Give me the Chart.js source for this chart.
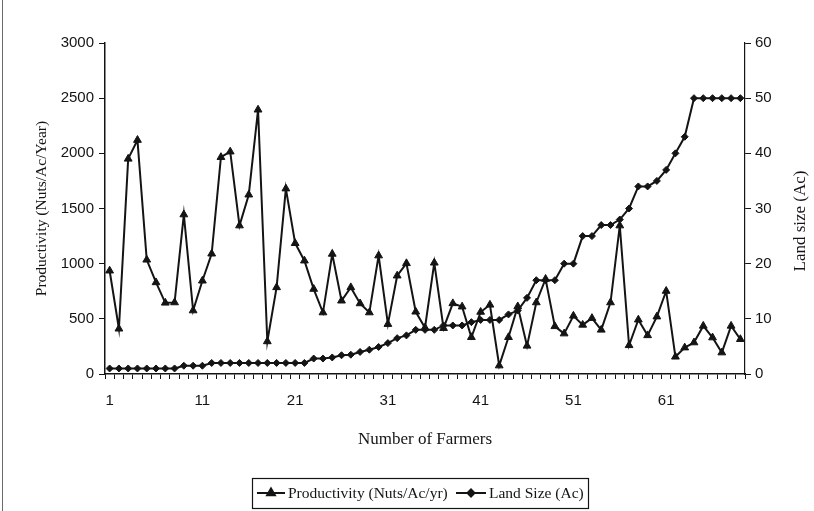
<!DOCTYPE html>
<html>
<head>
<meta charset="utf-8">
<script src="https://cdn.jsdelivr.net/npm/chart.js@4.4.1/dist/chart.umd.min.js"></script>
<style>
html,body{margin:0;padding:0;background:#fff;}
#wrap{width:814px;height:511px;}
</style>
</head>
<body>
<div id="wrap"><canvas id="chart" width="814" height="511"></canvas></div>
<script>
// ─── Data ───
const farmers = ['1','2','3','4','5','6','7','8','9','10','11','12','13','14','15','16','17','18','19','20',
  '21','22','23','24','25','26','27','28','29','30','31','32','33','34','35','36','37','38','39','40',
  '41','42','43','44','45','46','47','48','49','50','51','52','53','54','55','56','57','58','59','60',
  '61','62','63','64','65','66','67','68','69'];
const xTickLabels = ['1','11','21','31','41','51','61'];

const productivity = [936,410,1950,2120,1035,830,645,648,1445,575,
  845,1090,1965,2015,1345,1625,2395,295,785,1680,
  1185,1027,770,557,1088,664,785,639,557,1073,
  452,891,1003,564,420,1008,415,640,610,333,
  562,627,76,333,612,255,648,861,432,366,
  527,445,506,400,648,1345,260,492,350,520,
  752,156,239,285,436,330,194,436,315];

const landSize = [1,1,1,1,1,1,1,1,1.5,1.5,
  1.5,2,2,2,2,2,2,2,2,2,
  2,2,2.8,2.8,3,3.4,3.5,4,4.4,4.9,
  5.6,6.5,7,8,8,8,8.8,8.8,8.8,9.4,
  9.8,9.8,9.8,10.8,11.5,13.8,17,17,17,20,
  20,25,25,27,27,28,30,34,34,35,
  37,40,43,50,50,50,50,50,50];

const prodTicks = [0,500,1000,1500,2000,2500,3000];
const landTicks = [0,10,20,30,40,50,60];

const INK = '#141414';
const SANS = "'Liberation Sans', Arial, sans-serif";
const SERIF = "'Liberation Serif', 'Times New Roman', serif";

// ─── Extra drawing: right title, boxed legend, scan frame line ───
const extras = {
  id:'extras',
  afterDraw(chart){
    const ctx = chart.ctx;
    ctx.save();
    // left frame line of the scanned page
    ctx.strokeStyle = '#6a6a6a'; ctx.lineWidth = 1;
    ctx.beginPath(); ctx.moveTo(2.5,0); ctx.lineTo(2.5,511); ctx.stroke();

    // right axis title reads bottom-to-top
    ctx.fillStyle = INK;
    ctx.font = '17px ' + SERIF;
    ctx.textAlign = 'center'; ctx.textBaseline = 'middle';
    ctx.translate(801, 221); ctx.rotate(-Math.PI/2);
    ctx.fillText('Land size (Ac)', 0, 0);
    ctx.restore();

    // legend box
    ctx.save();
    ctx.strokeStyle = INK; ctx.lineWidth = 1.2;
    ctx.strokeRect(252.5, 478.5, 336, 30);
    const y = 493;
    const items = [
      {x0:257, x1:285, tx:288, style:'triangle', r:4.5, text:chart.data.datasets[0].label},
      {x0:456, x1:486, tx:489, style:'rectRot', r:3.5, text:chart.data.datasets[1].label}
    ];
    ctx.font = '15.5px ' + SERIF;
    ctx.textAlign = 'left'; ctx.textBaseline = 'middle';
    items.forEach(it=>{
      ctx.strokeStyle = INK; ctx.lineWidth = 2;
      ctx.beginPath(); ctx.moveTo(it.x0,y); ctx.lineTo(it.x1,y); ctx.stroke();
      ctx.fillStyle = INK;
      Chart.helpers.drawPoint(ctx,{pointStyle:it.style, radius:it.r, rotation:0, borderWidth:1}, (it.x0+it.x1)/2, y);
      ctx.fillText(it.text, it.tx, y+1);
    });
    ctx.restore();
  }
};

const ctx = document.getElementById('chart').getContext('2d');
new Chart(ctx,{
  type:'line',
  data:{
    labels:farmers,
    datasets:[
      {label:'Productivity (Nuts/Ac/yr)', data:productivity, yAxisID:'y',
        borderColor:INK, backgroundColor:INK, borderWidth:2,
        pointStyle:'triangle', pointRadius:4.5, pointBorderWidth:1, tension:0},
      {label:'Land Size (Ac)', data:landSize, yAxisID:'y1',
        borderColor:INK, backgroundColor:INK, borderWidth:2,
        pointStyle:'rectRot', pointRadius:3.5, pointBorderWidth:1, tension:0}
    ]
  },
  options:{
    responsive:false, animation:false,
    layout:{padding:{top:43, bottom:57, left:0, right:0}},
    plugins:{legend:{display:false}, tooltip:{enabled:false}},
    scales:{
      x:{
        offset:true,
        grid:{offset:true, drawOnChartArea:false, drawTicks:true, tickLength:5, color:INK, lineWidth:1},
        border:{display:true, color:INK, width:1.5},
        ticks:{autoSkip:false, maxRotation:0, minRotation:0, padding:13, color:INK,
          font:{family:SANS, size:15},
          callback:function(v,i){ const l = farmers[i]; return xTickLabels.includes(l) ? l : ''; }},
        title:{display:true, text:'Number of Farmers', color:INK,
          font:{family:SERIF, size:17}, padding:{top:0, bottom:4}},
        afterFit:s=>{ s.height = 80; }
      },
      y:{
        position:'left', min:0, max:3000,
        grid:{drawOnChartArea:false, drawTicks:true, tickLength:6, color:INK},
        border:{display:true, color:INK, width:1.5},
        afterBuildTicks:s=>{ s.ticks = prodTicks.map(v=>({value:v})); },
        ticks:{padding:5, color:INK, font:{family:SANS, size:15}, callback:v=>String(v)},
        title:{display:true, text:'Productivity (Nuts/Ac/Year)', color:INK,
          font:{family:SERIF, size:15.5}, padding:{top:33, bottom:0}},
        afterFit:s=>{ s.width = 105; }
      },
      y1:{
        position:'right', min:0, max:60,
        grid:{drawOnChartArea:false, drawTicks:true, tickLength:6, color:INK},
        border:{display:true, color:INK, width:1.2},
        afterBuildTicks:s=>{ s.ticks = landTicks.map(v=>({value:v})); },
        ticks:{padding:4, color:INK, font:{family:SANS, size:15}, callback:v=>String(v)},
        afterFit:s=>{ s.width = 69; }
      }
    }
  },
  plugins:[extras]
});
</script>
</body>
</html>
